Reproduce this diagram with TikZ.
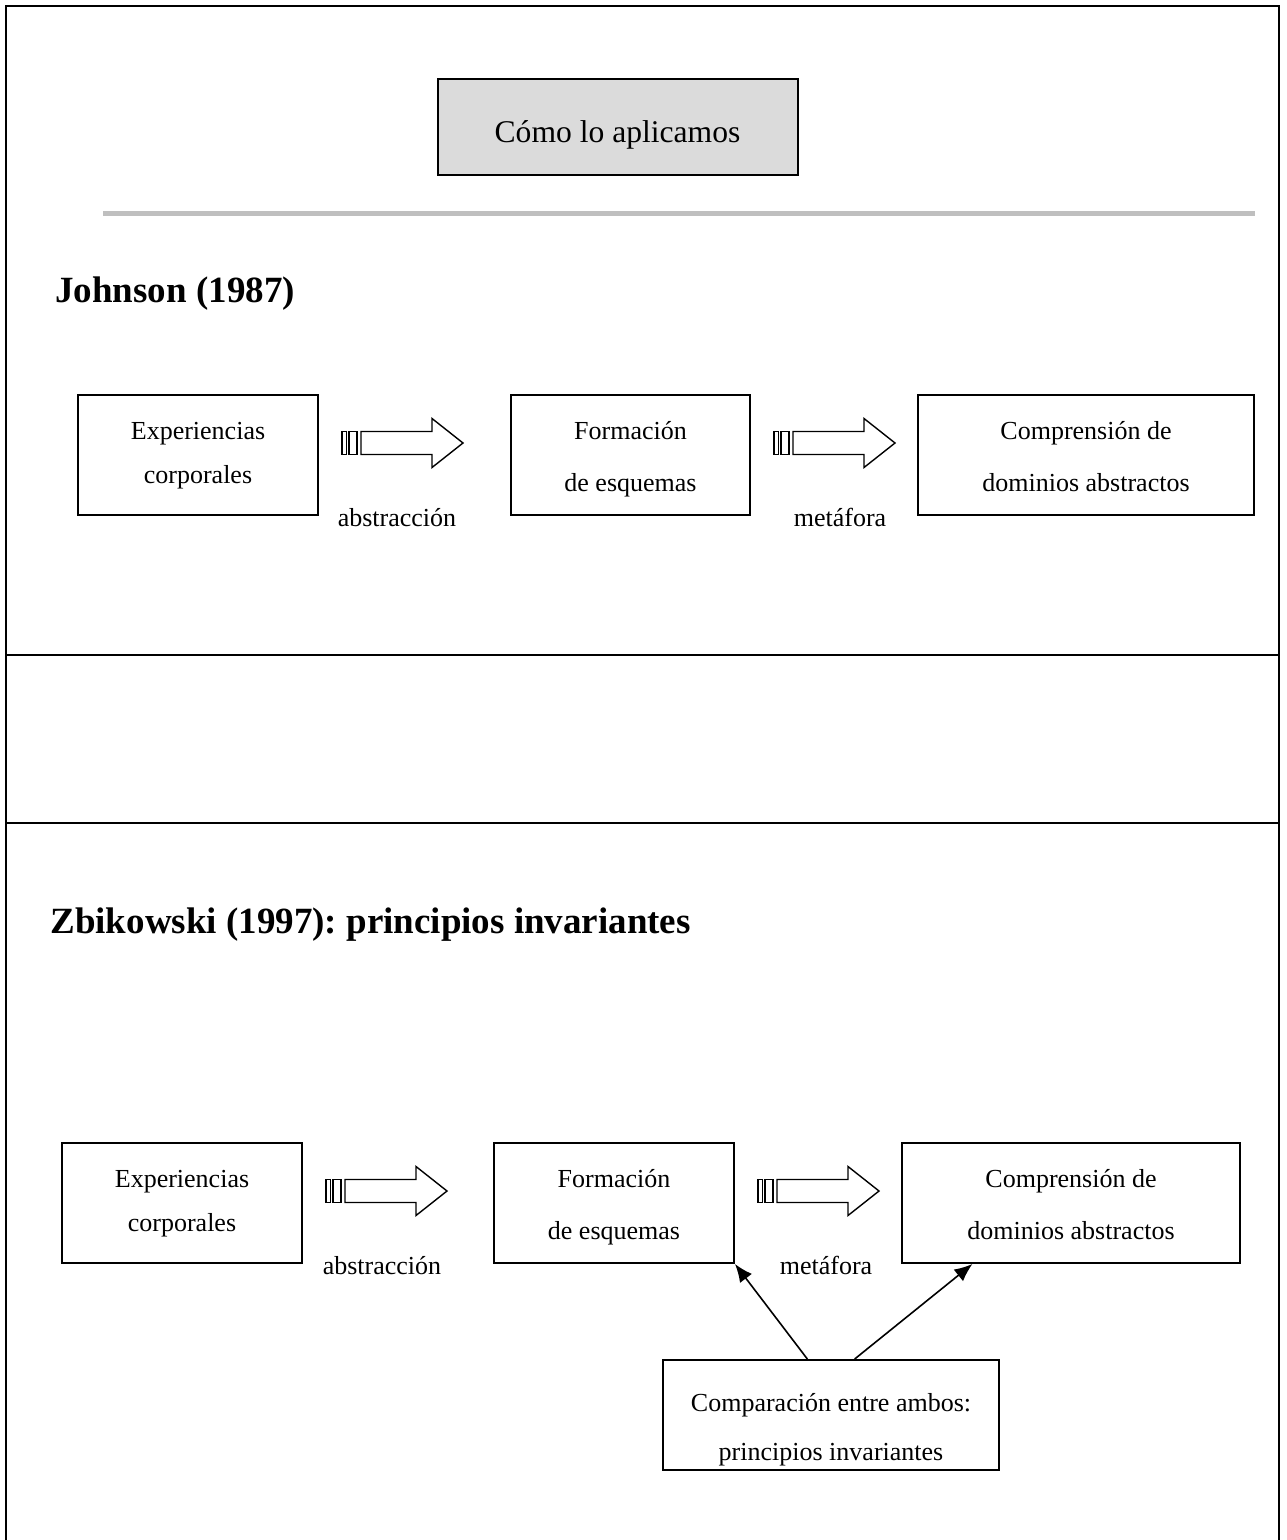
\documentclass[tikz,border=0pt]{standalone}
\usepackage{fontspec}
\setmainfont{Liberation Serif}
\usetikzlibrary{calc,fit,arrows.meta}
\frenchspacing

\begin{document}
\begin{tikzpicture}[x=0.5pt,y=-0.5pt,
  frame/.style={line width=1.2pt},
  sep/.style={line width=1pt},
  box/.style={draw,line width=1pt,inner sep=0pt},
  txt/.style={font=\fontsize{13}{15}\selectfont,anchor=base,inner sep=0pt},
  head/.style={font=\fontsize{18.5}{22}\selectfont\bfseries,anchor=base west,inner sep=0pt},
  link/.style={line width=0.8pt,-{Latex[length=9pt,width=7.5pt]}},
  blockarrow/.pic={
    \begin{scope}[line width=0.7pt]
      \draw (0,-11.5) rectangle (4.7,11.5);
      \draw (7,-11.5) rectangle (15,11.5);
      \draw (19,-11.5) -- (90,-11.5) -- (90,-24.5) -- (121,0)
            -- (90,24.5) -- (90,11.5) -- (19,11.5) -- cycle;
    \end{scope}
  }]
\useasboundingbox (0,0) rectangle (1286,1540);

% outer frame and section separators
\draw[frame] (6,1540) -- (6,6) -- (1279,6) -- (1279,1540);
\draw[sep] (6,655) -- (1279,655);
\draw[sep] (6,823) -- (1279,823);

% title
\node[box,fill=black!14,fit={(438,79)(798,175)}] (title) {};
\node[txt,font=\fontsize{15.8}{18}\selectfont] (titletxt) at (617.5,143) {Cómo lo aplicamos};
\fill[black!25] (103,211) rectangle (1255,216.5);

% ---- Johnson (1987)
\node[head] (hj) at (55,303) {Johnson (1987)};

\node[box,fit={(78,395)(318,515)}] (ja) {};
\node[txt] (ja1) at (198,439) {Experiencias};
\node[txt] (ja2) at (198,483) {corporales};

\node[box,fit={(511,395)(750,515)}] (jb) {};
\node[txt] (jb1) at (630.5,439) {Formación};
\node[txt] (jb2) at (630.5,491) {de esquemas};

\node[box,fit={(918,395)(1254,515)}] (jc) {};
\node[txt] (jc1) at (1086,439) {Comprensión de};
\node[txt] (jc2) at (1086,491) {dominios abstractos};

\pic at (342,443) {blockarrow};
\pic at (774,443) {blockarrow};
\node[txt] (jl1) at (397,526) {abstracción};
\node[txt] (jl2) at (840,526) {metáfora};

% ---- Zbikowski (1997)
\node[head] (hz) at (50,933) {Zbikowski (1997): principios invariantes};

\node[box,fit={(62,1143)(302,1263)}] (za) {};
\node[txt] (za1) at (182,1187) {Experiencias};
\node[txt] (za2) at (182,1231) {corporales};

\node[box,fit={(494,1143)(734,1263)}] (zb) {};
\node[txt] (zb1) at (614,1187) {Formación};
\node[txt] (zb2) at (614,1239) {de esquemas};

\node[box,fit={(902,1143)(1240,1263)}] (zc) {};
\node[txt] (zc1) at (1071,1187) {Comprensión de};
\node[txt] (zc2) at (1071,1239) {dominios abstractos};

\pic at (326,1191) {blockarrow};
\pic at (758,1191) {blockarrow};
\node[txt] (zl1) at (382,1274) {abstracción};
\node[txt] (zl2) at (826,1274) {metáfora};

\node[box,fit={(663,1360)(999,1470)}] (zd) {};
\node[txt] (zd1) at (831,1411) {Comparación entre ambos:};
\node[txt] (zd2) at (831,1460) {principios invariantes};

\draw[link] ($(zd.north west)!0.43!(zd.north east)$) -- (zb.south east);
\draw[link] ($(zd.north west)!0.57!(zd.north east)$) -- ($(zc.south west)!0.21!(zc.south east)$);
\end{tikzpicture}
\end{document}
